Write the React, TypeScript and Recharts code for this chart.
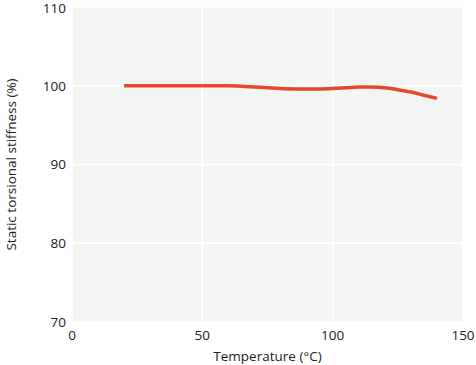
import { LineChart, Line, XAxis, YAxis, CartesianGrid } from "recharts"

const temperature = [20, 25, 30, 35, 40, 45, 50, 55, 60, 65, 70, 75, 80, 85, 90, 95, 100, 105, 110, 115, 120, 125, 130, 135, 140]
const stiffness = [100, 100, 100, 100, 100, 100, 100, 100, 100, 99.95, 99.85, 99.75, 99.65, 99.6, 99.6, 99.6, 99.65, 99.75, 99.85, 99.85, 99.75, 99.5, 99.2, 98.8, 98.4]
const xTicks = [0, 50, 100, 150]
const yTicks = [70, 80, 90, 100, 110]

const data = temperature.map((t, i) => ({ t, v: stiffness[i] }))

const font = "'Open Sans', 'Noto Sans', sans-serif"
const tickStyle = { fill: "#222", fontSize: 13.5, fontFamily: font }

export default function App() {
  return (
    <div style={{ position: "absolute", left: 0, top: 0, background: "#fff" }}>
      <LineChart width={476} height={365} data={data} margin={{ top: 7, right: 13, bottom: 0, left: 0 }}>
        <CartesianGrid fill="#f3f4f4" stroke="#ffffff" strokeWidth={1.5} />
        <XAxis
          dataKey="t"
          type="number"
          domain={[0, 150]}
          ticks={xTicks}
          axisLine={false}
          tickLine={false}
          tick={tickStyle}
          tickMargin={2}
          height={43}
          label={{ value: "Temperature (°C)", position: "insideBottom", offset: 4, style: { ...tickStyle, textAnchor: "middle" } }}
        />
        <YAxis
          type="number"
          domain={[70, 110]}
          ticks={yTicks}
          axisLine={false}
          tickLine={false}
          tick={tickStyle}
          tickMargin={0}
          width={72}
          label={{ value: "Static torsional stiffness (%)", angle: -90, position: "insideLeft", offset: 11, style: { ...tickStyle, textAnchor: "middle" } }}
        />
        <Line dataKey="v" stroke="#e8472a" strokeWidth={3.5} dot={false} type="monotone" isAnimationActive={false} />
      </LineChart>
    </div>
  )
}
